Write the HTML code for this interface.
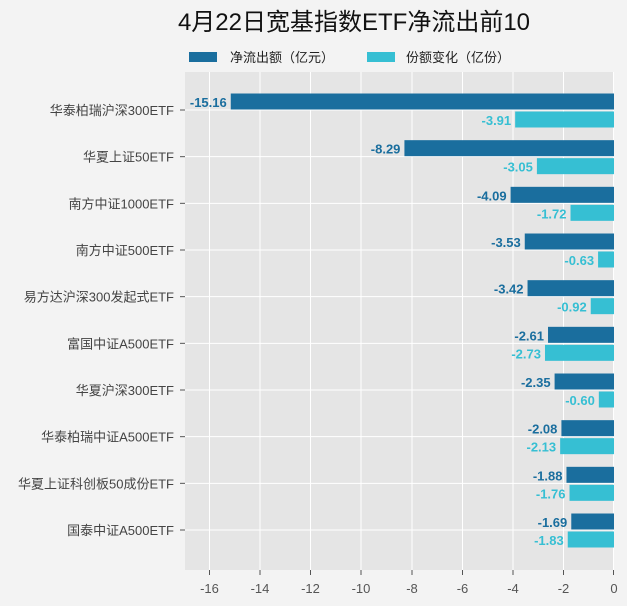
<!DOCTYPE html>
<html><head><meta charset="utf-8"><style>
body{margin:0;background:#f3f3f3;}
svg{display:block;font-family:"Liberation Sans","Noto Sans CJK SC",sans-serif;}
</style></head><body>
<svg width="627" height="606" viewBox="0 0 627 606">
<rect width="627" height="606" fill="#f3f3f3"/>
<text x="354" y="30" text-anchor="middle" font-size="24" fill="#111">4月22日宽基指数ETF净流出前10</text>
<rect x="189" y="52" width="28" height="10" fill="#1a6e9e"/>
<text x="230" y="62" font-size="13" fill="#222">净流出额（亿元）</text>
<rect x="367" y="52" width="28" height="10" fill="#36bfd3"/>
<text x="406" y="62" font-size="13" fill="#222">份额变化（亿份）</text>
<rect x="185" y="72" width="429" height="498" fill="#e5e5e5"/>
<g stroke="#fff" stroke-width="1">
<line x1="209.5" y1="72" x2="209.5" y2="570"/><line x1="260" y1="72" x2="260" y2="570"/>
<line x1="310.5" y1="72" x2="310.5" y2="570"/><line x1="361" y1="72" x2="361" y2="570"/>
<line x1="412" y1="72" x2="412" y2="570"/><line x1="462.5" y1="72" x2="462.5" y2="570"/>
<line x1="513" y1="72" x2="513" y2="570"/><line x1="563.5" y1="72" x2="563.5" y2="570"/>
<line x1="613.5" y1="72" x2="613.5" y2="570"/>
<line x1="185" y1="110" x2="614" y2="110"/><line x1="185" y1="156.67" x2="614" y2="156.67"/>
<line x1="185" y1="203.33" x2="614" y2="203.33"/><line x1="185" y1="250" x2="614" y2="250"/>
<line x1="185" y1="296.67" x2="614" y2="296.67"/><line x1="185" y1="343.33" x2="614" y2="343.33"/>
<line x1="185" y1="390" x2="614" y2="390"/><line x1="185" y1="436.67" x2="614" y2="436.67"/>
<line x1="185" y1="483.33" x2="614" y2="483.33"/><line x1="185" y1="530" x2="614" y2="530"/>
</g>
<g stroke="#555">
<line x1="180" y1="110" x2="185" y2="110"/><line x1="180" y1="156.67" x2="185" y2="156.67"/>
<line x1="180" y1="203.33" x2="185" y2="203.33"/><line x1="180" y1="250" x2="185" y2="250"/>
<line x1="180" y1="296.67" x2="185" y2="296.67"/><line x1="180" y1="343.33" x2="185" y2="343.33"/>
<line x1="180" y1="390" x2="185" y2="390"/><line x1="180" y1="436.67" x2="185" y2="436.67"/>
<line x1="180" y1="483.33" x2="185" y2="483.33"/><line x1="180" y1="530" x2="185" y2="530"/>
<line x1="209.5" y1="570" x2="209.5" y2="575"/><line x1="260" y1="570" x2="260" y2="575"/><line x1="310.5" y1="570" x2="310.5" y2="575"/><line x1="361" y1="570" x2="361" y2="575"/><line x1="412" y1="570" x2="412" y2="575"/><line x1="462.5" y1="570" x2="462.5" y2="575"/><line x1="513" y1="570" x2="513" y2="575"/><line x1="563.5" y1="570" x2="563.5" y2="575"/><line x1="613.5" y1="570" x2="613.5" y2="575"/>
</g>
<g fill="#1a6e9e">
<rect x="230.76" y="93.5" width="383.24" height="16"/>
<rect x="404.43" y="140.17" width="209.57" height="16"/>
<rect x="510.6" y="186.83" width="103.4" height="16"/>
<rect x="524.76" y="233.5" width="89.24" height="16"/>
<rect x="527.54" y="280.17" width="86.46" height="16"/>
<rect x="548.02" y="326.83" width="65.98" height="16"/>
<rect x="554.59" y="373.5" width="59.41" height="16"/>
<rect x="561.42" y="420.17" width="52.58" height="16"/>
<rect x="566.47" y="466.83" width="47.53" height="16"/>
<rect x="571.28" y="513.5" width="42.72" height="16"/>
</g>
<g fill="#36bfd3">
<rect x="515.16" y="111.5" width="98.84" height="16"/>
<rect x="536.9" y="158.17" width="77.1" height="16"/>
<rect x="570.52" y="204.83" width="43.48" height="16"/>
<rect x="598.07" y="251.5" width="15.93" height="16"/>
<rect x="590.74" y="298.17" width="23.26" height="16"/>
<rect x="544.99" y="344.83" width="69.01" height="16"/>
<rect x="598.83" y="391.5" width="15.17" height="16"/>
<rect x="560.15" y="438.17" width="53.85" height="16"/>
<rect x="569.51" y="484.83" width="44.49" height="16"/>
<rect x="567.74" y="531.5" width="46.26" height="16"/>
</g>
<g font-size="13" font-weight="bold" fill="#1a6e9e" text-anchor="end">
<text x="226.76" y="107">-15.16</text>
<text x="400.43" y="153.67">-8.29</text>
<text x="506.6" y="200.33">-4.09</text>
<text x="520.76" y="247">-3.53</text>
<text x="523.54" y="293.67">-3.42</text>
<text x="544.02" y="340.33">-2.61</text>
<text x="550.59" y="387">-2.35</text>
<text x="557.42" y="433.67">-2.08</text>
<text x="562.47" y="480.33">-1.88</text>
<text x="567.28" y="527">-1.69</text>
</g>
<g font-size="13" font-weight="bold" fill="#36bfd3" text-anchor="end">
<text x="511.16" y="125">-3.91</text>
<text x="532.9" y="171.67">-3.05</text>
<text x="566.52" y="218.33">-1.72</text>
<text x="594.07" y="265">-0.63</text>
<text x="586.74" y="311.67">-0.92</text>
<text x="540.99" y="358.33">-2.73</text>
<text x="594.83" y="405">-0.60</text>
<text x="556.15" y="451.67">-2.13</text>
<text x="565.51" y="498.33">-1.76</text>
<text x="563.74" y="545">-1.83</text>
</g>
<g font-size="13" fill="#444" text-anchor="end">
<text x="174" y="115">华泰柏瑞沪深300ETF</text>
<text x="174" y="161.67">华夏上证50ETF</text>
<text x="174" y="208.33">南方中证1000ETF</text>
<text x="174" y="255">南方中证500ETF</text>
<text x="174" y="301.67">易方达沪深300发起式ETF</text>
<text x="174" y="348.33">富国中证A500ETF</text>
<text x="174" y="395">华夏沪深300ETF</text>
<text x="174" y="441.67">华泰柏瑞中证A500ETF</text>
<text x="174" y="488.33">华夏上证科创板50成份ETF</text>
<text x="174" y="535">国泰中证A500ETF</text>
</g>
<g font-size="13" fill="#555" text-anchor="middle">
<text x="209.5" y="593">-16</text><text x="260" y="593">-14</text><text x="310.5" y="593">-12</text>
<text x="361" y="593">-10</text><text x="412" y="593">-8</text><text x="462.5" y="593">-6</text>
<text x="513" y="593">-4</text><text x="563.5" y="593">-2</text><text x="614" y="593">0</text>
</g>
</svg>
</body></html>
